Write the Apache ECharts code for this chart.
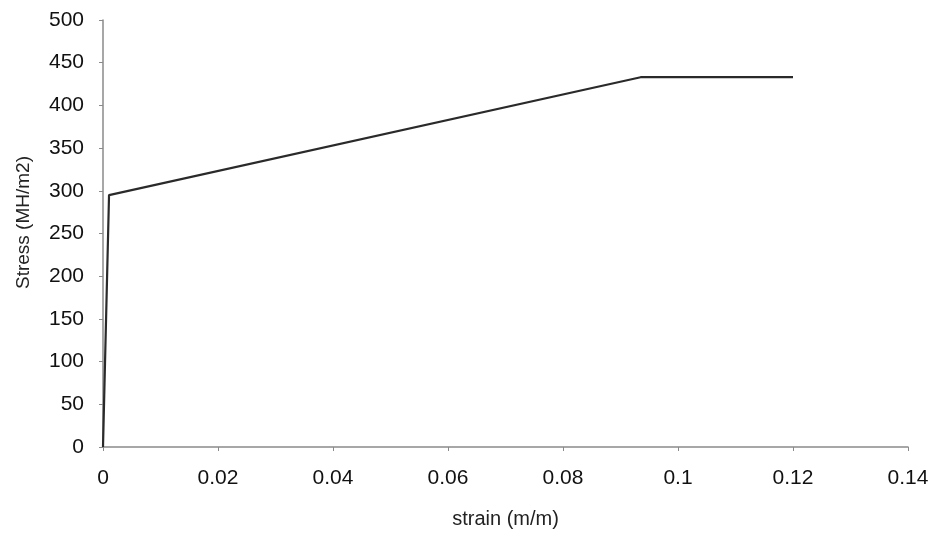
<!DOCTYPE html>
<html>
<head>
<meta charset="utf-8">
<script src="https://cdn.jsdelivr.net/npm/echarts@6/dist/echarts.min.js"></script>
<style>
  html, body { margin: 0; padding: 0; background: #fff; }
  #chart { width: 937px; height: 537px; }
</style>
</head>
<body>
<div id="chart"></div>
<script>
// Stress-strain curve: elastic rise, linear hardening, then a flat plateau
const strain = [0, 0.00105, 0.0935, 0.12];
const stress = [0, 295, 433, 433];
const xTicks = [0, 0.02, 0.04, 0.06, 0.08, 0.1, 0.12, 0.14];
const yTicks = [0, 50, 100, 150, 200, 250, 300, 350, 400, 450, 500];

const font = 'Liberation Sans, Arial, sans-serif';
const axisColor = '#8a8a8a';

const chart = echarts.init(document.getElementById('chart'), null, { renderer: 'canvas' });
chart.setOption({
  animation: false,
  backgroundColor: '#ffffff',
  grid: { left: 103, right: 29, top: 20, bottom: 90, containLabel: false },
  xAxis: {
    type: 'value',
    min: xTicks[0],
    max: xTicks[xTicks.length - 1],
    interval: 0.02,
    name: 'strain (m/m)',
    nameLocation: 'middle',
    nameGap: 62,
    nameTextStyle: { fontFamily: font, fontSize: 20, color: '#222' },
    axisLine: { show: true, lineStyle: { color: axisColor, width: 1.5 } },
    axisTick: { show: true, length: 4, lineStyle: { color: axisColor } },
    splitLine: { show: false },
    axisLabel: {
      fontFamily: font, fontSize: 21, color: '#111', margin: 21,
      formatter: v => String(+v.toFixed(2))
    }
  },
  yAxis: {
    type: 'value',
    min: yTicks[0],
    max: yTicks[yTicks.length - 1],
    interval: 50,
    name: 'Stress (MH/m2)',
    nameLocation: 'middle',
    nameGap: 70,
    nameRotate: 90,
    nameTextStyle: { fontFamily: font, fontSize: 19, color: '#222', padding: [0, 0, 0, 22] },
    axisLine: { show: true, lineStyle: { color: axisColor, width: 1.5 } },
    axisTick: { show: true, length: 4, lineStyle: { color: axisColor } },
    splitLine: { show: false },
    axisLabel: { fontFamily: font, fontSize: 21, color: '#111', margin: 19 }
  },
  series: [{
    type: 'line',
    data: strain.map((x, i) => [x, stress[i]]),
    symbol: 'none',
    lineStyle: { color: '#2a2a2a', width: 2.2 }
  }]
});
</script>
</body>
</html>
